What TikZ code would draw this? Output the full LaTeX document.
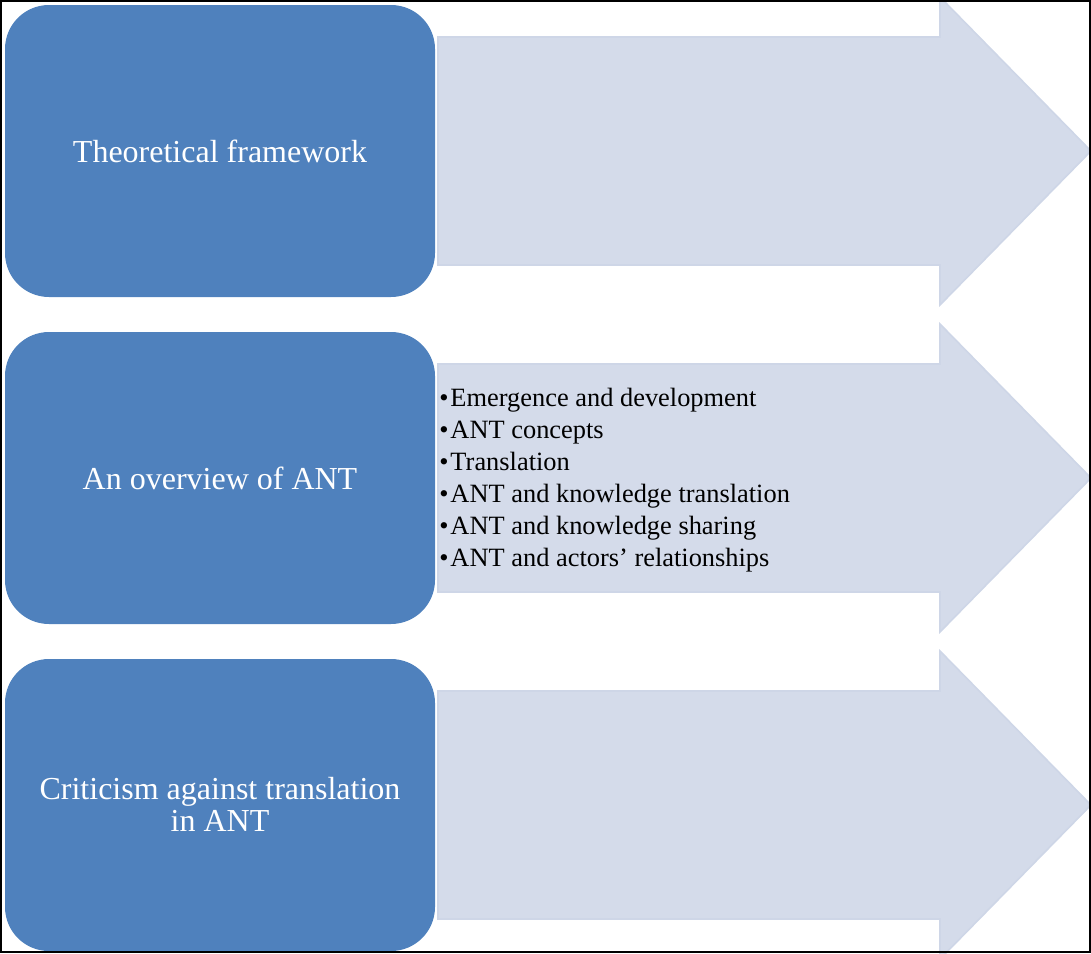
\documentclass[tikz,border=0pt]{standalone}
\usepackage{fontspec}
\setmainfont{Liberation Serif}
\definecolor{boxblue}{HTML}{4F81BD}
\definecolor{arrowfill}{HTML}{D4DBEA}
\definecolor{arrowedge}{HTML}{CED6E7}
\begin{document}
\begin{tikzpicture}[x=0.75pt,y=-0.75pt,
  stagebox/.style={fill=boxblue,draw=none,rounded corners=33pt},
  stagearrow/.style={fill=arrowfill,draw=arrowedge,line width=1.2pt},
  stagelabel/.style={text=white,font=\fontsize{24}{24}\selectfont,align=center,inner sep=0pt},
  itemlist/.style={text=black,font=\fontsize{19.8}{24}\selectfont,align=left,inner sep=0pt,anchor=west}]
\useasboundingbox (0,0) rectangle (1091,953);
\begin{scope}
\clip (0,0) rectangle (1091,953);
% three wide arrows, one per row (row pitch 327px)
\foreach \i/\c in {1/151,2/478,3/805}{
  \draw[stagearrow] (438,\c-114) -- (940,\c-114) -- (940,\c-154) -- (1091,\c)
    -- (940,\c+154) -- (940,\c+114) -- (438,\c+114) -- cycle;
}
% rounded stage boxes
\fill[stagebox] (5,5) rectangle (435,297);
\fill[stagebox] (5,332) rectangle (435,624);
\fill[stagebox] (5,659) rectangle (435,951);
\end{scope}
\node[stagelabel] (s1) at (220,151) {Theoretical framework};
\node[stagelabel] (s2) at (220,478) {An overview of ANT};
\node[stagelabel] (s3) at (220,804) {Criticism against translation\\in ANT};
\node[itemlist] (l2) at (439,480.5) {\textbullet\hspace{1.5pt}Emergence and development\\
\textbullet\hspace{1.5pt}ANT concepts\\
\textbullet\hspace{1.5pt}Translation\\
\textbullet\hspace{1.5pt}ANT and knowledge translation\\
\textbullet\hspace{1.5pt}ANT and knowledge sharing\\
\textbullet\hspace{1.5pt}ANT and actors’ relationships};
% outer frame
\draw[line width=1.5pt] (1,1) rectangle (1090,952);
\end{tikzpicture}
\end{document}
